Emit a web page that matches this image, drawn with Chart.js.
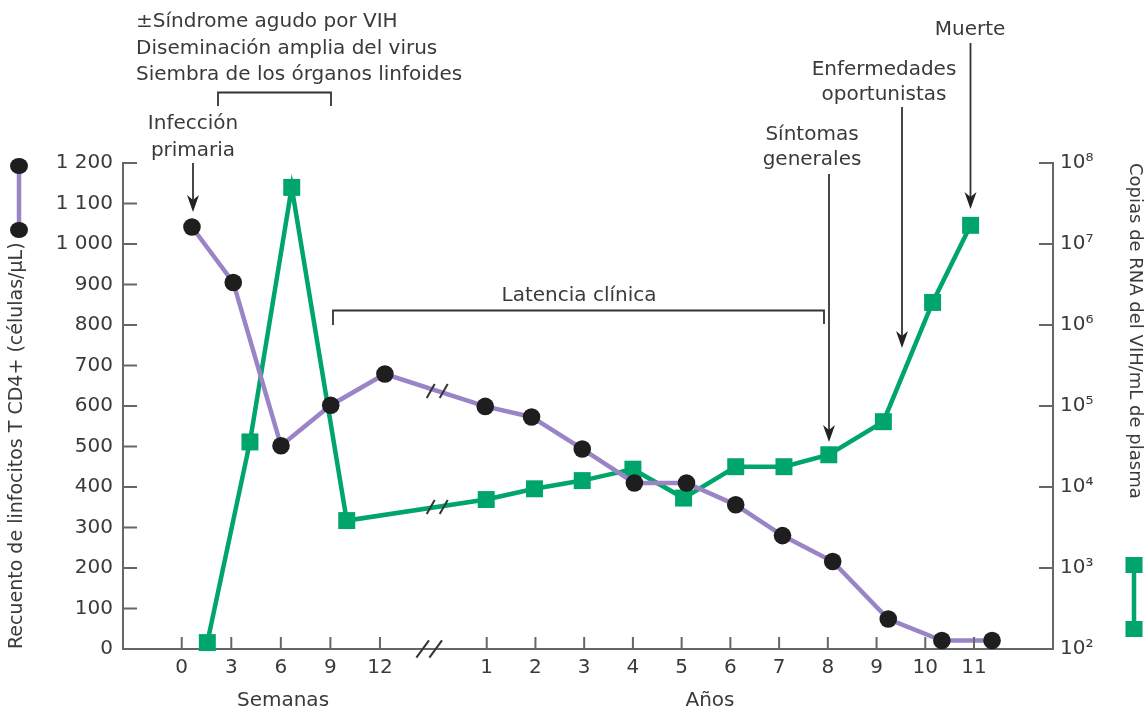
<!DOCTYPE html>
<html><head><meta charset="utf-8">
<script src="https://cdn.jsdelivr.net/npm/chart.js@4.4.0/dist/chart.umd.min.js"></script>
<style>html,body{margin:0;padding:0;background:#fff}#wrap{width:1147px;height:716px;position:relative}</style>
</head><body><div id="wrap"><canvas id="c"></canvas></div>
<script>
// ---- data ----
const weekTicks = [0, 3, 6, 9, 12];
const yearTicks = [1, 2, 3, 4, 5, 6, 7, 8, 9, 10, 11];
const xTickLabels = ['0','3','6','9','12','1','2','3','4','5','6','7','8','9','10','11'];
const cd4TickValues = [0,100,200,300,400,500,600,700,800,900,1000,1100,1200];
const cd4TickLabels = ['0','100','200','300','400','500','600','700','800','900','1 000','1 100','1 200'];
const rnaTickValues = [1e2,1e3,1e4,1e5,1e6,1e7,1e8];
const rnaTickLabels = ['10²','10³','10⁴','10⁵','10⁶','10⁷','10⁸'];

const cd4Weeks = [0.62, 3.12, 6.01, 9.02, 12.3];
const cd4WeekValues = [1042, 905, 502, 602, 679];
const cd4Years = [0.97, 1.92, 2.96, 4.03, 5.10, 6.11, 7.07, 8.10, 9.24, 10.34, 11.37];
const cd4YearValues = [599, 573, 494, 410, 410, 356, 280, 216, 74, 21, 21];

const rnaWeeks = [1.55, 4.13, 6.66, 9.99];
const rnaWeekValues = [120, 36000, 50000000, 3850];
const rnaYears = [0.99, 1.98, 2.96, 4.0, 5.04, 6.11, 7.1, 8.02, 9.14, 10.15, 10.93];
const rnaYearValues = [7000, 9500, 12000, 16600, 7300, 17800, 17800, 25000, 64000, 1900000, 17000000];

// ---- axis mapping (weeks segment, then years segment after a break) ----
const WEEK_U = 0.339, YEAR_OFF = 5.259, X_MIN = -1.205, X_MAX = 17.88, BREAK_U = 5.14;
const xOfWeek = w => w * WEEK_U;
const xOfYear = y => YEAR_OFF + y;

const FONT = '"DejaVu Sans", sans-serif';
const TXT = '#3a3a3a';
const AXIS = '#666666';
const PURPLE = '#9a84c6';
const GREEN = '#00a56b';
const DOT = '#1e1e1e';

const cd4Data = cd4Weeks.map((w,i)=>({x:xOfWeek(w), y:cd4WeekValues[i]}))
  .concat(cd4Years.map((y,i)=>({x:xOfYear(y), y:cd4YearValues[i]})));
const rnaData = rnaWeeks.map((w,i)=>({x:xOfWeek(w), y:rnaWeekValues[i]}))
  .concat(rnaYears.map((y,i)=>({x:xOfYear(y), y:rnaYearValues[i]})));
const xTickValues = weekTicks.map(xOfWeek).concat(yearTicks.map(xOfYear));

function arrow(ctx, x, y0, tip){
  ctx.beginPath(); ctx.moveTo(x, y0); ctx.lineTo(x, tip-8); ctx.stroke();
  ctx.beginPath(); ctx.moveTo(x, tip); ctx.lineTo(x-6, tip-17); ctx.lineTo(x, tip-12); ctx.lineTo(x+6, tip-17); ctx.closePath(); ctx.fill();
}
function slash(ctx, cx, cy, dx, dy){
  ctx.beginPath(); ctx.moveTo(cx-dx, cy+dy); ctx.lineTo(cx+dx, cy-dy); ctx.stroke();
}

const deco = {
  id: 'deco',
  afterDatasetsDraw(chart){
    const ctx = chart.ctx, xs = chart.scales.x;
    const bx = xs.getPixelForValue(BREAK_U) + 5;
    ctx.save(); ctx.strokeStyle = '#333'; ctx.lineWidth = 2;
    [[0, cd4Weeks.length], [1, rnaWeeks.length]].forEach(([di, n])=>{
      const pts = chart.getDatasetMeta(di).data;
      const a = pts[n-1], b = pts[n];
      const t = (bx - a.x) / (b.x - a.x);
      const cy = a.y + t*(b.y - a.y);
      slash(ctx, bx-6.5, cy, 4, 7);
      slash(ctx, bx+6.5, cy, 4, 7);
    });
    ctx.restore();
  },
  afterDraw(chart){
    const ctx = chart.ctx, xs = chart.scales.x, yl = chart.scales.yL, yr = chart.scales.yR;
    const ca = chart.chartArea;
    ctx.save();
    ctx.strokeStyle = AXIS; ctx.lineWidth = 2;
    // inner tick marks
    cd4TickValues.forEach(v=>{ const y = yl.getPixelForValue(v); ctx.beginPath(); ctx.moveTo(ca.left, y); ctx.lineTo(ca.left+14, y); ctx.stroke(); });
    rnaTickValues.forEach(v=>{ const y = yr.getPixelForValue(v); ctx.beginPath(); ctx.moveTo(ca.right, y); ctx.lineTo(ca.right-14, y); ctx.stroke(); });
    xTickValues.forEach(v=>{ const x = xs.getPixelForValue(v); ctx.beginPath(); ctx.moveTo(x, ca.bottom); ctx.lineTo(x, ca.bottom-12); ctx.stroke(); });
    // axis break
    const abx = xs.getPixelForValue(BREAK_U) - 3;
    ctx.strokeStyle = '#333';
    slash(ctx, abx-6.5, ca.bottom, 6.3, 8.7);
    slash(ctx, abx+6.5, ca.bottom, 6.3, 8.7);

    // texts
    ctx.fillStyle = TXT; ctx.strokeStyle = '#333'; ctx.lineWidth = 1.8;
    ctx.font = '20px ' + FONT; ctx.textBaseline = 'alphabetic';
    ctx.textAlign = 'left';
    ctx.fillText('±Síndrome agudo por VIH', 136, 27);
    ctx.fillText('Diseminación amplia del virus', 136, 53.5);
    ctx.fillText('Siembra de los órganos linfoides', 136, 80);
    ctx.textAlign = 'center';
    ctx.fillText('Infección', 193, 129);
    ctx.fillText('primaria', 193, 156);
    ctx.fillText('Latencia clínica', 579, 301);
    ctx.fillText('Síntomas', 812, 140);
    ctx.fillText('generales', 812, 165);
    ctx.fillText('Enfermedades', 884, 75);
    ctx.fillText('oportunistas', 884, 100);
    ctx.fillText('Muerte', 970, 35);
    ctx.fillText('Semanas', 283, 706);
    ctx.fillText('Años', 710, 706);

    // brackets
    ctx.beginPath(); ctx.moveTo(218, 106); ctx.lineTo(218, 92.5); ctx.lineTo(331, 92.5); ctx.lineTo(331, 106); ctx.stroke();
    ctx.beginPath(); ctx.moveTo(333, 325); ctx.lineTo(333, 310.5); ctx.lineTo(824, 310.5); ctx.lineTo(824, 324); ctx.stroke();
    // arrows
    ctx.fillStyle = '#222';
    arrow(ctx, 193, 163, 212);
    arrow(ctx, 829, 174, 442);
    arrow(ctx, 902, 107, 348);
    arrow(ctx, 970.5, 43, 209);

    // legend symbols
    ctx.lineWidth = 4.5;
    ctx.strokeStyle = PURPLE;
    ctx.beginPath(); ctx.moveTo(19, 166); ctx.lineTo(19, 230); ctx.stroke();
    ctx.fillStyle = DOT;
    [166, 230].forEach(y=>{ ctx.beginPath(); ctx.ellipse(19, y, 9, 8, 0, 0, Math.PI*2); ctx.fill(); });
    ctx.strokeStyle = GREEN;
    ctx.beginPath(); ctx.moveTo(1134, 565); ctx.lineTo(1134, 629); ctx.stroke();
    ctx.fillStyle = GREEN;
    [565, 629].forEach(y=>{ ctx.fillRect(1125.5, y-8, 17, 16); });
    ctx.restore();
  }
};

new Chart(document.getElementById('c'), {
  type: 'line',
  data: {
    datasets: [
      { label: 'Linfocitos T CD4+', data: cd4Data, yAxisID: 'yL', borderColor: PURPLE, borderWidth: 4.5,
        pointRadius: 8.8, pointHoverRadius: 8.8, pointBackgroundColor: DOT, pointBorderColor: DOT, pointBorderWidth: 0,
        tension: 0, clip: false, fill: false },
      { label: 'RNA del VIH', data: rnaData, yAxisID: 'yR', borderColor: GREEN, borderWidth: 4.5,
        pointStyle: 'rect', pointRadius: 12, pointHoverRadius: 12, pointBackgroundColor: GREEN, pointBorderColor: GREEN, pointBorderWidth: 0,
        tension: 0, clip: false, fill: false }
    ]
  },
  options: {
    responsive: true, maintainAspectRatio: false, animation: false, events: [],
    layout: { padding: { top: 163, left: 0, right: 0, bottom: 0 } },
    plugins: { legend: { display: false }, tooltip: { enabled: false } },
    scales: {
      x: {
        type: 'linear', min: X_MIN, max: X_MAX,
        afterBuildTicks(s){ s.ticks = xTickValues.map(v=>({value: v})); },
        afterFit(s){ s.height = 67; },
        grid: { display: false, drawTicks: false },
        border: { display: true, color: AXIS, width: 2 },
        ticks: { autoSkip: false, maxRotation: 0, minRotation: 0, padding: 7, color: TXT,
          font: { family: FONT, size: 20 }, callback: (v, i) => xTickLabels[i] }
      },
      yL: {
        type: 'linear', position: 'left', min: 0, max: 1200,
        afterBuildTicks(s){ s.ticks = cd4TickValues.map(v=>({value: v})); },
        afterFit(s){ s.width = 123; },
        grid: { display: false, drawTicks: false },
        border: { display: true, color: AXIS, width: 2 },
        ticks: { padding: 10, color: TXT, font: { family: FONT, size: 20 }, callback: (v, i) => cd4TickLabels[i] },
        title: { display: true, text: 'Recuento de linfocitos T CD4+ (células/μL)', align: 'start', color: TXT,
          font: { family: FONT, size: 19 }, padding: { top: 6, bottom: 0 } }
      },
      yR: {
        type: 'logarithmic', position: 'right', min: 1e2, max: 1e8,
        afterBuildTicks(s){ s.ticks = rnaTickValues.map(v=>({value: v})); },
        afterFit(s){ s.width = 94; },
        grid: { display: false, drawTicks: false },
        border: { display: true, color: AXIS, width: 2 },
        ticks: { padding: 7, color: TXT, font: { family: FONT, size: 20 }, callback: (v, i) => rnaTickLabels[i] },
        title: { display: true, text: 'Copias de RNA del VIH/mL de plasma', align: 'end', color: TXT,
          font: { family: FONT, size: 18 }, padding: { top: 2, bottom: 0 } }
      }
    }
  },
  plugins: [deco]
});
</script>
</body></html>
